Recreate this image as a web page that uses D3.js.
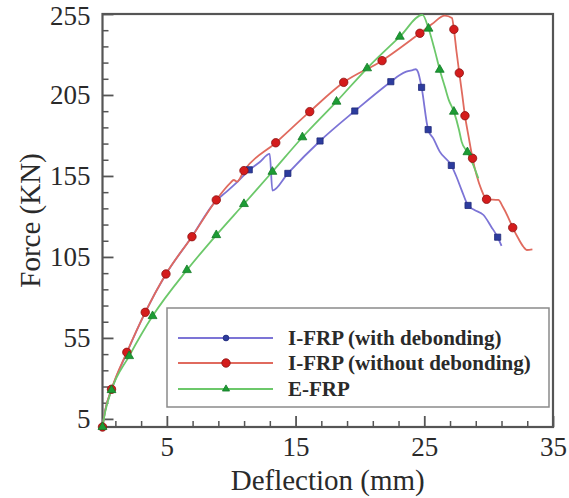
<!DOCTYPE html>
<html>
<head>
<meta charset="utf-8">
<script src="https://cdn.jsdelivr.net/npm/d3@7"></script>
<style>
  body { margin: 0; background: #fff; }
</style>
</head>
<body>
<script>
// tick labels
const xTicks = [5, 15, 25, 35];
const xMinor = [1, 3, 7, 9, 11, 13, 17, 19, 21, 23, 27, 29, 31, 33];
const yTicks = [5, 55, 105, 155, 205, 255];
const yMinor = [15, 25, 35, 45, 65, 75, 85, 95, 115, 125, 135, 145, 165, 175, 185, 195, 215, 225, 235, 245];

const seriesNames = ['I-FRP (with debonding)', 'I-FRP (without debonding)', 'E-FRP'];

// I-FRP (with debonding) - line
const blueX = [0, 0.2, 0.7, 1.9, 3.3, 4.9, 6.9, 8.8, 9.6, 10.5, 11.4, 12.2, 12.99, 13.2, 14.4, 16.9, 19.6, 22.4, 23.1, 23.6, 24.1, 24.35, 24.5, 24.79, 25.3, 25.7, 26.2, 27.1, 27.5, 27.9, 28.4, 28.9, 29.6, 30.2, 30.7, 31.0];
const blueY = [0, 10, 23, 46, 70.5, 94, 117, 139.5, 145, 151.5, 158.6, 163.5, 168.6, 146, 156.6, 176.6, 195.1, 213.2, 217.3, 219.4, 220.4, 220.9, 219.4, 209.7, 183.6, 178.2, 170, 161.5, 154.5, 146.3, 136.8, 134, 130.9, 123.7, 117.2, 111.8];
// markers
const blueMX = [11.4, 14.4, 16.9, 19.6, 22.4, 24.79, 25.3, 27.1, 28.4, 30.7];
const blueMY = [158.8, 156.6, 176.6, 195.1, 213.2, 209.7, 183.6, 161.5, 136.8, 117.2];

// I-FRP (without debonding) - line
const redX = [0, 0.2, 0.7, 1.89, 3.32, 4.93, 6.95, 8.84, 9.9, 10.2, 10.45, 10.99, 13.46, 16.1, 18.74, 21.72, 24.66, 25.6, 26.6, 27.15, 27.3, 27.5, 27.72, 27.95, 28.16, 28.45, 28.75, 29.06, 29.45, 29.84, 30.75, 31.1, 31.5, 31.87, 32.3, 32.7, 32.96, 33.4];
const redY = [0, 10, 23.3, 46.1, 70.8, 94.5, 117.5, 140.2, 150.4, 152.5, 151.5, 158.3, 175.5, 194.7, 212.8, 226.2, 243.1, 248.8, 254, 252.5, 245.5, 232, 218.6, 205, 192.2, 179, 165.9, 155.6, 146.3, 140.6, 140.2, 136, 129.8, 123.1, 116.5, 111.3, 109.3, 109.7];
// markers
const redMX = [0, 0.7, 1.89, 3.32, 4.93, 6.95, 8.84, 10.99, 13.46, 16.1, 18.74, 21.72, 24.66, 27.3, 27.72, 28.16, 28.75, 29.84, 31.87];
const redMY = [0, 23.3, 46.1, 70.8, 94.5, 117.5, 140.2, 158.3, 175.5, 194.7, 212.8, 226.2, 243.1, 245.5, 218.6, 192.2, 165.9, 140.6, 123.1];

// E-FRP - line
const greenX = [0, 0.2, 0.7, 2.07, 3.89, 6.56, 8.84, 10.99, 13.2, 15.53, 18.18, 20.56, 23.1, 24.86, 25.33, 25.8, 26.2, 26.6, 26.9, 27.3, 27.7, 27.9, 28.35, 28.8, 29.2];
const greenY = [0, 9, 22.8, 43.8, 68.5, 96.9, 118.5, 137.7, 157.6, 178.9, 200.9, 221.5, 241, 254.4, 246, 233, 220.6, 210, 202, 194.7, 183.4, 176.2, 169.7, 161.8, 153.5];
// markers
const greenMX = [0, 0.7, 2.07, 3.89, 6.56, 8.84, 10.99, 13.2, 15.53, 18.18, 20.56, 23.1, 25.33, 26.2, 27.3, 28.35];
const greenMY = [0, 22.8, 43.8, 68.5, 96.9, 118.5, 137.7, 157.6, 178.9, 200.9, 221.5, 241, 246, 220.6, 194.7, 169.7];

const W = 569, H = 498;
const serif = "'Liberation Serif'";

const svg = d3.select('body').append('svg')
  .attr('width', W)
  .attr('height', H);

const x = d3.scaleLinear().domain([0, 35]).range([102.5, 553]);
const y = d3.scaleLinear().domain([0, 255]).range([427, 14]);

// minor ticks
svg.append('g')
  .attr('transform', `translate(${x(0)},0)`)
  .call(d3.axisLeft(y).tickValues(yMinor).tickSize(-6).tickFormat(''))
  .call(g => g.select('.domain').remove())
  .selectAll('line').attr('stroke', '#555').attr('stroke-width', 1.5);

svg.append('g')
  .attr('transform', `translate(0,${y(0)})`)
  .call(d3.axisBottom(x).tickValues(xMinor).tickSize(-6).tickFormat(''))
  .call(g => g.select('.domain').remove())
  .selectAll('line').attr('stroke', '#555').attr('stroke-width', 1.5);

// Y-axis
const yAxis = svg.append('g')
  .attr('transform', `translate(${x(0)},0)`)
  .call(d3.axisLeft(y).tickValues(yTicks).tickSize(-11).tickPadding(12));
yAxis.select('.domain').remove();
yAxis.selectAll('line').attr('stroke', '#555').attr('stroke-width', 1.8);
yAxis.selectAll('text')
  .style('font-family', serif)
  .style('font-size', '27px')
  .attr('fill', '#2a2a2a');
yAxis.select('.tick:last-of-type text').attr('dy', '0.38em');

// X-axis
const xAxis = svg.append('g')
  .attr('transform', `translate(0,${y(0)})`)
  .call(d3.axisBottom(x).tickValues(xTicks).tickSize(-11).tickPadding(10));
xAxis.select('.domain').remove();
xAxis.selectAll('line').attr('stroke', '#555').attr('stroke-width', 1.8);
xAxis.selectAll('text')
  .style('font-family', serif)
  .style('font-size', '27px')
  .attr('fill', '#2a2a2a');

// frame
svg.append('rect')
  .attr('x', x(0))
  .attr('y', y(255))
  .attr('width', x(35) - x(0))
  .attr('height', y(0) - y(255))
  .attr('fill', 'none')
  .attr('stroke', '#555')
  .attr('stroke-width', 2.2);

// axis titles
svg.append('text')
  .attr('x', (x(0) + x(35)) / 2)
  .attr('y', 490)
  .attr('text-anchor', 'middle')
  .style('font-family', serif)
  .style('font-size', '29px')
  .attr('fill', '#2a2a2a')
  .text('Deflection (mm)');

svg.append('text')
  .attr('transform', `translate(40,${(y(0) + y(255)) / 2}) rotate(-90)`)
  .attr('text-anchor', 'middle')
  .style('font-family', serif)
  .style('font-size', '29px')
  .attr('fill', '#2a2a2a')
  .text('Force (KN)');

const line = d3.line()
  .x(d => x(d[0]))
  .y(d => y(d[1]))
  .curve(d3.curveMonotoneX);

const series = [
  { xs: blueX, ys: blueY, mx: blueMX, my: blueMY, line: '#7c74d6', fill: '#2d3c9e', stroke: '#1f2a78', sym: d3.symbolSquare, size: 38 },
  { xs: redX, ys: redY, mx: redMX, my: redMY, line: '#e06a5e', fill: '#d41c1c', stroke: '#8a1010', sym: d3.symbolCircle, size: 56 },
  { xs: greenX, ys: greenY, mx: greenMX, my: greenMY, line: '#6cc86a', fill: '#1c9c34', stroke: '#137a26', sym: d3.symbolTriangle, size: 34 }
];

series.forEach(s => {
  svg.append('path')
    .datum(s.xs.map((v, i) => [v, s.ys[i]]))
    .attr('d', line)
    .attr('fill', 'none')
    .attr('stroke', s.line)
    .attr('stroke-width', 1.8);
});

series.forEach(s => {
  svg.selectAll(null)
    .data(s.mx.map((v, i) => [v, s.my[i]]))
    .enter().append('path')
    .attr('transform', d => `translate(${x(d[0])},${y(d[1])})`)
    .attr('d', d3.symbol().type(s.sym).size(s.size))
    .attr('fill', s.fill)
    .attr('stroke', s.stroke)
    .attr('stroke-width', 0.8);
});

// legend
const legend = svg.append('g');
legend.append('rect')
  .attr('x', 167)
  .attr('y', 308)
  .attr('width', 382)
  .attr('height', 99)
  .attr('fill', '#fff')
  .attr('stroke', '#8a8a8a')
  .attr('stroke-width', 1.5);

const rowY = [338, 363, 389];
const legendSize = [26, 56, 22];
series.forEach((s, i) => {
  legend.append('line')
    .attr('x1', 178).attr('x2', 273)
    .attr('y1', rowY[i]).attr('y2', rowY[i])
    .attr('stroke', s.line)
    .attr('stroke-width', 2.2);
  legend.append('path')
    .attr('transform', `translate(226,${rowY[i]})`)
    .attr('d', d3.symbol().type(i === 0 ? d3.symbolCircle : s.sym).size(legendSize[i]))
    .attr('fill', s.fill)
    .attr('stroke', s.stroke)
    .attr('stroke-width', 0.8);
  legend.append('text')
    .attr('x', 288)
    .attr('y', rowY[i] + 7)
    .style('font-family', serif)
    .style('font-size', '21px')
    .style('font-weight', 'bold')
    .attr('fill', '#2a2a2a')
    .text(seriesNames[i]);
});
</script>
</body>
</html>
